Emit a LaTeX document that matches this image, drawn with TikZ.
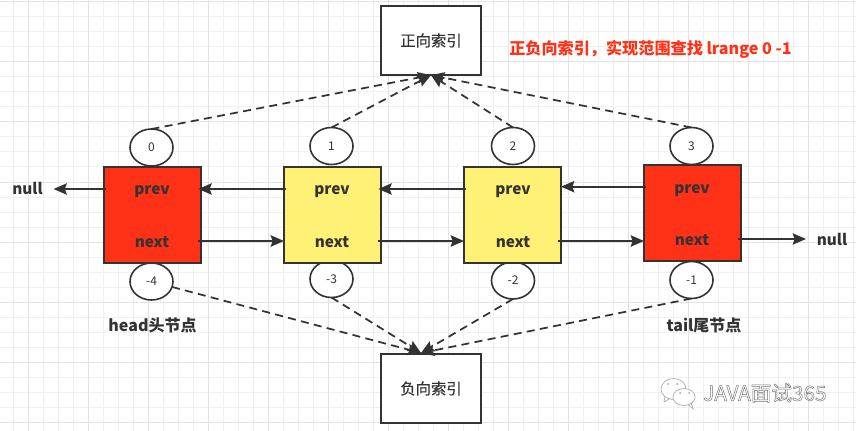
\documentclass[tikz,border=0pt]{standalone}
\usepackage{fontspec}
\setmainfont{Noto Sans CJK SC}
\newfontfamily\midfont[FakeBold=0.4]{Noto Sans CJK SC}
\usetikzlibrary{arrows.meta,shapes.geometric}
\definecolor{ink}{HTML}{333333}
\definecolor{nodered}{HTML}{FF3116}
\definecolor{nodeyellow}{HTML}{FFF176}
\definecolor{gridminor}{HTML}{F1F1F1}
\definecolor{gridmajor}{HTML}{E3E3E3}
\tikzset{
 x=0.75pt,y=-0.75pt,
 cell/.style={draw=ink,line width=1.5pt,minimum width=72.75pt,minimum height=72pt,inner sep=0pt,outer sep=0pt},
 indexbox/.style={draw=ink,line width=1.5pt,fill=white,minimum width=75pt,minimum height=52pt,inner sep=0pt,outer sep=0pt,text=ink,font=\midfont\fontsize{11.5}{13}\selectfont},
 slot/.style={draw=ink,line width=1.2pt,fill=white,ellipse,minimum width=32.25pt,minimum height=27.75pt,inner sep=0pt,outer sep=0pt,text=ink,font=\fontsize{9}{11}\selectfont},
 lab/.style={text=ink,inner sep=0pt,anchor=base,font=\bfseries\fontsize{11.5}{13}\selectfont},
 wide/.style={lab,font=\bfseries\fontsize{12}{14}\selectfont},
 link/.style={draw=ink,line width=1.3pt,-{Stealth[length=10pt,width=8.5pt,inset=1.5pt]}},
 jump/.style={draw=ink,line width=1.3pt,dash pattern=on 6pt off 4pt,-{Stealth[length=10pt,width=8.5pt,inset=1.5pt]}},
 bubble/.style={draw=gray!65,line width=0.5pt},
}
\begin{document}
\begin{tikzpicture}
\useasboundingbox (0,0) rectangle (856,431);
\fill[white] (0,0) rectangle (856,431);
\foreach \gx in {-2,13,...,856} \draw[gridminor,line width=0.75pt] (\gx,0) -- (\gx,431);
\foreach \gy in {2,17,...,431} \draw[gridminor,line width=0.75pt] (0,\gy) -- (856,\gy);
\foreach \gx in {28,88,...,856} \draw[gridmajor,line width=0.75pt] (\gx,0) -- (\gx,431);
\foreach \gy in {2,62,...,431} \draw[gridmajor,line width=0.75pt] (0,\gy) -- (856,\gy);

\node[slot] (t0) at (151.5,147.5) {0};
\node[slot] (t1) at (331.5,146) {1};
\node[slot] (t2) at (513,146) {2};
\node[slot] (t3) at (691.5,146) {3};
\node[slot] (u4) at (151.5,281.5) {-4};
\node[slot] (u3) at (331.5,279) {-3};
\node[slot] (u2) at (513,280.5) {-2};
\node[slot] (u1) at (691.5,280) {-1};

\node[cell,fill=nodered] (b1) at (152.5,215) {};
\node[cell,fill=nodeyellow] (b2) at (332.5,215) {};
\node[cell,fill=nodeyellow] (b3) at (512.5,215) {};
\node[cell,fill=nodered] (b4) at (692.5,213) {};

\node[indexbox] (top) at (431,40.5) {正向索引};
\node[indexbox] (bot) at (431,388.5) {负向索引};
\coordinate (botin) at (421,353);

\node[lab] (p1) at (152,195) {prev};
\node[lab] (n1) at (152,247) {next};
\node[lab] (p2) at (332,195) {prev};
\node[lab] (n2) at (332,247) {next};
\node[lab] (p3) at (513,195) {prev};
\node[lab] (n3) at (513,247) {next};
\node[lab] (p4) at (692,193) {prev};
\node[lab] (n4) at (692,245) {next};
\node[lab] (nl) at (27.5,195) {null};
\node[lab] (nr) at (832,245) {null};
\node[wide] at (152.5,331) {head头节点};
\node[wide] at (704,331) {tail尾节点};
\node[text=nodered,inner sep=0pt,font=\bfseries\fontsize{12.1}{14}\selectfont] at (650.5,49) {正负向索引，实现范围查找 lrange 0 -1};

\coordinate (lend) at (53.5,189);
\coordinate (rend) at (806,239);
\coordinate (prevhi) at (600,186.7);
\coordinate (nextlo) at (300,241);
\draw[link,shorten <=-1.5pt] (b1.west |- lend) -- (lend);
\draw[link,shorten <=-1.5pt,shorten >=-2pt] (b2.west |- lend) -- (b1.east |- lend);
\draw[link,shorten <=-1.5pt,shorten >=-2pt] (b3.west |- lend) -- (b2.east |- lend);
\draw[link,shorten <=-1.5pt] (b4.west |- prevhi) -- (b3.east |- prevhi);
\draw[link,shorten <=-2pt] (b1.east |- nextlo) -- (b2.west |- nextlo);
\draw[link,shorten <=-2pt] (b2.east |- nextlo) -- (b3.west |- nextlo);
\draw[link,shorten <=-2pt] (b3.east |- nextlo) -- (b4.west |- nextlo);
\draw[link,shorten <=-2pt] (b4.east |- rend) -- (rend);

\draw[jump] (t0.north) -- (top.south);
\draw[jump] (t1.north) -- (top.south);
\draw[jump] (t2.north) -- (top.south);
\draw[jump] (t3.north) -- (top.south);
\draw[jump] (u4) -- (botin);
\draw[jump] (u3.south) -- (botin);
\draw[jump] (u2.south) -- (botin);
\draw[jump] (u1.south) -- (botin);

\draw[bubble,fill=white] (665,396) -- (664,402) -- (671,398);
\draw[bubble,fill=white] (673.5,389) ellipse (12.5 and 10.5);
\draw[bubble,fill=white] (684,397) ellipse (11 and 8.5);
\draw[bubble] (688,404) -- (693,409) -- (691,402);
\fill[gray!70] (668,384) circle (1) (677,384) circle (1) (680,393) circle (1) (689,393) circle (1);
\node[text=gray,inner sep=0pt,anchor=west,font=\fontsize{15.5}{17}\selectfont] at (703,393) {\special{pdf:code q 1 Tr 0.35 w 0.45 G}JAVA面试365\special{pdf:code Q}};
\end{tikzpicture}
\end{document}
